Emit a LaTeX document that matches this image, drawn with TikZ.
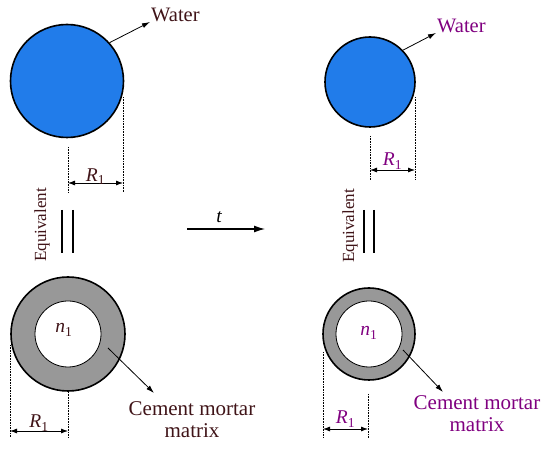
\documentclass[tikz,border=0pt]{standalone}
\usepackage{fontspec}
\setmainfont{Liberation Serif}
\usepackage{tikz}
\usetikzlibrary{arrows.meta}
\definecolor{waterblue}{RGB}{33,124,234}
\definecolor{ringgray}{RGB}{152,152,152}
\definecolor{darkbrown}{RGB}{64,20,24}
\definecolor{mypurple}{RGB}{128,0,128}

\begin{document}
\begin{tikzpicture}[x=1pt, y=-1pt,
    water/.style={circle, draw, line width=1.6pt, fill=waterblue, minimum size=#1},
    ring/.style={circle, draw, line width=1.6pt, fill=ringgray, minimum size=#1},
    core/.style={circle, draw, line width=0.8pt, fill=white, minimum size=#1},
    dim/.style={densely dotted, line width=0.6pt},
    dimarrow/.style={{Latex[length=7pt,width=5pt]}-{Latex[length=7pt,width=5pt]}, line width=0.8pt},
    pointer/.style={-{Latex[length=8pt,width=5pt]}, line width=0.8pt},
    txt/.style={inner sep=1pt, font=\fontsize{20.5}{23}\selectfont},
    sym/.style={inner sep=0pt, font=\fontsize{19.5}{21}\selectfont}]
  \useasboundingbox (0,0) rectangle (550,449);

  % water, before and after
  \node[water=113pt] (wL) at (67,81) {};
  \node[water=90pt]  (wR) at (370,82) {};
  \node[txt, text=darkbrown, anchor=base west] (waterL) at (150,22) {Water};
  \node[txt, text=mypurple, anchor=base west] (waterR) at (436,33) {Water};
  \draw[pointer] (wL.42) -- (waterL.base west);
  \draw[pointer] (wR.44) -- (waterR.base west);

  % radius of the water
  \draw[dim] (68,147) -- (68,192);
  \draw[dim] (123,97) -- (123,192);
  \coordinate (dA1) at (68,183);
  \coordinate (dA2) at (123,183);
  \draw[dimarrow] (dA1) -- node[sym, text=darkbrown, anchor=base, yshift=1.5pt]
    {{\itshape R}\textsubscript{1}} (dA2);

  \draw[dim] (370,136) -- (370,180);
  \draw[dim] (415,97) -- (415,180);
  \coordinate (dB1) at (370,170);
  \coordinate (dB2) at (415,170);
  \draw[dimarrow] (dB1) -- node[sym, text=mypurple, anchor=base, yshift=4pt]
    {{\itshape R}\textsubscript{1}} (dB2);

  % equivalent
  \node[txt, font=\fontsize{17}{19}\selectfont, text=darkbrown, rotate=90] (eqL) at (42,225) {Equivalent};
  \node[txt, font=\fontsize{17}{19}\selectfont, text=darkbrown, rotate=90] (eqR) at (350,226) {Equivalent};
  \draw[line width=2.6pt] (62,210) -- (62,253);
  \draw[line width=2.6pt] (73,210) -- (73,253);
  \draw[line width=2.6pt] (364,210) -- (364,253);
  \draw[line width=2.6pt] (374,210) -- (374,253);

  % time arrow
  \coordinate (tS) at (187,229);
  \coordinate (tE) at (265,229);
  \draw[line width=1.2pt, -{Latex[length=11pt,width=7pt]}] (tS) --
    node[sym, anchor=base, pos=0.41, yshift=6pt] {\itshape t} (tE);

  % cement mortar matrix, before and after
  \node[ring=114pt] (rL) at (68,334) {};
  \node[core=66pt]  (cL) at (68,334) {};
  \node[ring=92pt]  (rR) at (369,334) {};
  \node[core=66pt]  (cR) at (369,334) {};
  \node[sym, text=darkbrown, anchor=base] (nL) at (64,333) {{\itshape n}\textsubscript{1}};
  \node[sym, text=mypurple, anchor=base] (nR) at (369,336) {{\itshape n}\textsubscript{1}};

  \node[txt, font=\fontsize{21}{22}\selectfont, text=darkbrown, align=center] (cmL) at (192,420)
    {Cement mortar\\matrix};
  \node[txt, font=\fontsize{21}{22}\selectfont, text=mypurple, align=center] (cmR) at (477,414)
    {Cement mortar\\matrix};
  \coordinate (mL) at (108,348);
  \coordinate (mLe) at (154,393);
  \coordinate (mR) at (403,350);
  \coordinate (mRe) at (443,392);
  \draw[pointer] (mL) -- (mLe);
  \draw[pointer] (mR) -- (mRe);

  % radius of the matrix
  \draw[dim] (10,345) -- (10,437);
  \draw[dim] (68,392) -- (68,437);
  \coordinate (dC1) at (10,431);
  \coordinate (dC2) at (68,431);
  \draw[dimarrow] (dC1) -- node[sym, text=darkbrown, anchor=base, yshift=3pt]
    {{\itshape R}\textsubscript{1}} (dC2);

  \draw[dim] (323,352) -- (323,438);
  \draw[dim] (368,394) -- (368,438);
  \coordinate (dD1) at (323,429);
  \coordinate (dD2) at (368,429);
  \draw[dimarrow] (dD1) -- node[sym, text=mypurple, anchor=base, yshift=5pt]
    {{\itshape R}\textsubscript{1}} (dD2);
\end{tikzpicture}
\end{document}
